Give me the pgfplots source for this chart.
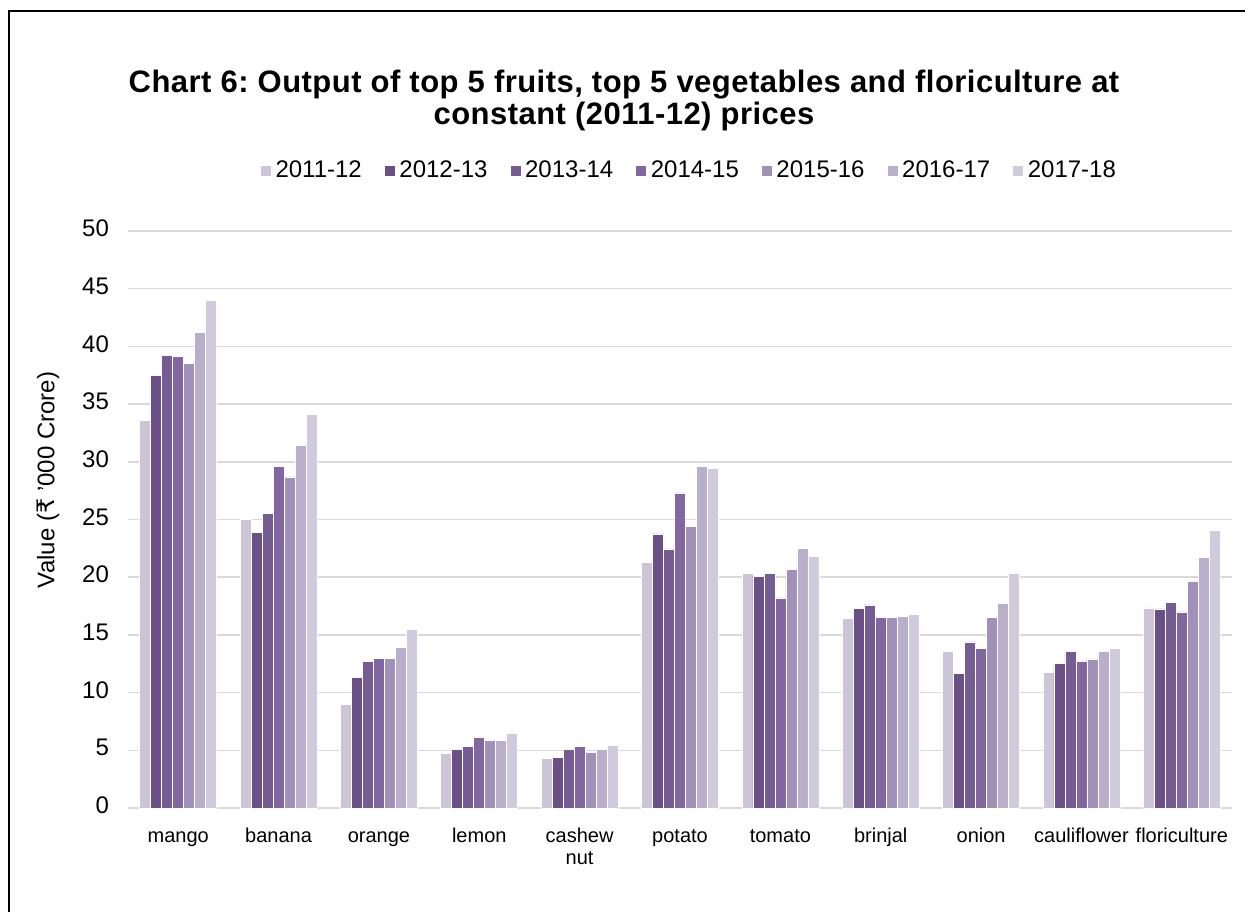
\documentclass[border=0pt]{standalone}
\usepackage{fontspec}
\setmainfont{Liberation Sans}
\newfontfamily\rupeefont{DejaVu Sans}
\newfontfamily\titlefont[LetterSpace=1.5]{Liberation Sans}
\usepackage{pgfplots}
\usepackage{pgfplotstable}
\pgfplotsset{compat=1.18}
\frenchspacing
\definecolor{cA}{HTML}{CCC5D8}
\definecolor{cB}{HTML}{6A5086}
\definecolor{cC}{HTML}{755C93}
\definecolor{cD}{HTML}{8166A0}
\definecolor{cE}{HTML}{A190B8}
\definecolor{cF}{HTML}{B9AFCA}
\definecolor{cG}{HTML}{D0CADD}
\definecolor{gridc}{HTML}{D9D9D9}
\pgfplotstableread{
x  a     b     c     d     e     f     g
0  33.6  37.5  39.2  39.15 38.5  41.2  44.0
1  25.0  23.9  25.5  29.6  28.7  31.4  34.1
2  9.0   11.3  12.7  12.95 13.0  13.9  15.45
3  4.7   5.08  5.37  6.09  5.86  5.89  6.49
4  4.27  4.41  5.08  5.31  4.79  5.11  5.40
5  21.26 23.75 22.45 27.3  24.4  29.6  29.4
6  20.3  20.1  20.3  18.2  20.7  22.5  21.8
7  16.4  17.3  17.6  16.5  16.5  16.6  16.8
8  13.56 11.68 14.4  13.85 16.5  17.77 20.37
9  11.74 12.55 13.6  12.75 12.93 13.56 13.82
10 17.34 17.25 17.83 17.0  19.68 21.7  24.06
}\datatable
\begin{document}
\begin{tikzpicture}
\path[use as bounding box] (0,0) rectangle (622.5pt,-455.5pt);
\draw[line width=1.2pt] (4.5pt,-460pt) -- (4.5pt,-5.5pt) -- (630pt,-5.5pt);
\node[align=center, font=\titlefont\bfseries\fontsize{15.5}{16}\selectfont] at (312pt,-50pt) {Chart 6: Output of top 5 fruits, top 5 vegetables and floriculture at\\constant (2011-12) prices};
\node[rotate=90, font=\fontsize{12}{14}\selectfont] at (24pt,-240pt) {Value ({\rupeefont ₹} '000 Crore)};
\begin{axis}[
  at={(64pt,-404pt)}, anchor=south west,
  scale only axis, width=552pt, height=288.5pt,
  ybar=0pt, bar width=5.5pt,
  xmin=-0.5, xmax=10.5, ymin=0, ymax=50,
  xtick=data,
  xticklabels={mango,banana,orange,lemon,cashew\\nut,potato,tomato,brinjal,onion,cauliflower,floriculture},
  typeset ticklabels with strut,
  xticklabel style={font=\fontsize{10}{11}\selectfont, align=center, yshift=-6pt},
  ytick={0,5,...,50},
  yticklabel style={font=\fontsize{12}{14}\selectfont, xshift=-6pt},
  /pgf/number format/assume math mode=true,
  major tick length=0pt,
  ymajorgrids, grid style={gridc, line width=0.75pt},
  axis x line*=bottom, axis y line*=left,
  x axis line style={gridc, line width=0.75pt, -},
  y axis line style={draw=none},
  legend columns=-1,
  legend style={draw=none, fill=none, at={(0.509,1.104)}, anchor=center, font=\fontsize{12}{14}\selectfont, /tikz/every even column/.append style={column sep=9pt}},
  legend image code/.code={\fill[#1] (0pt,-2.75pt) rectangle (5.5pt,2.75pt);},
  every axis plot/.append style={draw=white, line width=0.3pt},
]
\addplot[fill=cA] table[x=x,y=a]{\datatable};
\addplot[fill=cB] table[x=x,y=b]{\datatable};
\addplot[fill=cC] table[x=x,y=c]{\datatable};
\addplot[fill=cD] table[x=x,y=d]{\datatable};
\addplot[fill=cE] table[x=x,y=e]{\datatable};
\addplot[fill=cF] table[x=x,y=f]{\datatable};
\addplot[fill=cG] table[x=x,y=g]{\datatable};
\legend{2011-12,2012-13,2013-14,2014-15,2015-16,2016-17,2017-18}
\end{axis}
\end{tikzpicture}
\end{document}
